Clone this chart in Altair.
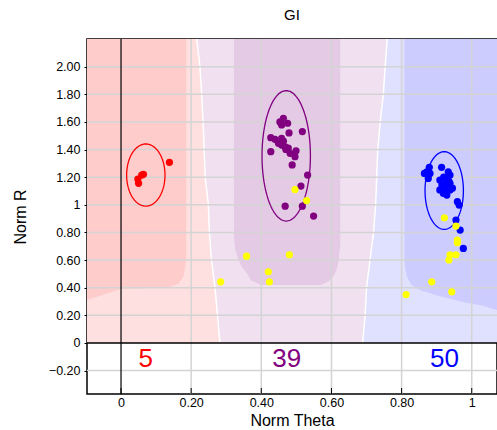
import altair as alt
import pandas as pd
import numpy as np

# ---------------- data ----------------
X_DOMAIN = [-0.097, 1.072]
Y_DOMAIN = [-0.37, 2.2]
Y_TOP = 2.2

# red / purple boundary (x ascending, y of boundary)
rp_x = [0.216, 0.225, 0.230, 0.234, 0.237, 0.240, 0.249, 0.252, 0.258, 0.268, 0.275, 0.282]
rp_y = [2.2, 2.0, 1.8, 1.6, 1.4, 1.2, 1.0, 0.8, 0.6, 0.4, 0.2, 0.0]
# purple / blue boundary
pb_x = [0.689, 0.696, 0.700, 0.710, 0.720, 0.726, 0.729, 0.732, 0.739, 0.748, 0.753, 0.759]
pb_y = [0.0, 0.2, 0.4, 0.6, 0.8, 1.0, 1.2, 1.4, 1.6, 1.8, 2.0, 2.2]

# darker high-confidence zones: lower edge (x ascending, y bottom); they reach the top
red_core_x = [-0.097, 0.0, 0.10, 0.14, 0.165, 0.178, 0.183, 0.186]
red_core_y = [0.31, 0.39, 0.40, 0.405, 0.43, 0.48, 0.55, 0.62]

purple_core_x = [0.322, 0.326, 0.335, 0.345, 0.36, 0.372, 0.40, 0.57, 0.594, 0.61, 0.617, 0.62, 0.625]
purple_core_y = [0.75, 0.67, 0.60, 0.55, 0.50, 0.45, 0.42, 0.42, 0.45, 0.50, 0.55, 0.60, 0.70]

blue_core_x = [0.808, 0.81, 0.815, 0.828, 0.855, 0.92, 0.985, 1.03, 1.072]
blue_core_y = [0.62, 0.55, 0.48, 0.42, 0.38, 0.33, 0.29, 0.27, 0.237]

# points
red_x = [0.050, 0.048, 0.059, 0.064, 0.138]
red_y = [1.155, 1.186, 1.215, 1.220, 1.307]

purple_x = [0.463, 0.453, 0.458, 0.475, 0.479, 0.517, 0.427, 0.439, 0.458, 0.449, 0.458, 0.468,
            0.477, 0.427, 0.482, 0.499, 0.496, 0.488, 0.532, 0.513, 0.468, 0.517, 0.549, 0.463, 0.470]
purple_y = [1.626, 1.600, 1.578, 1.590, 1.520, 1.530, 1.486, 1.474, 1.480, 1.445, 1.432, 1.420,
            1.410, 1.384, 1.372, 1.391, 1.348, 1.288, 1.215, 1.135, 0.990, 0.990, 0.918, 1.460, 1.400]

blue_x = [0.914, 0.879, 0.872, 0.865, 0.881, 0.876, 0.933, 0.938, 0.909, 0.924, 0.915, 0.929, 0.938,
          0.909, 0.924, 0.938, 0.919, 0.929, 0.930, 0.959, 0.964, 0.955, 0.967, 0.976, 0.920, 0.935, 0.945]
blue_y = [1.271, 1.271, 1.239, 1.227, 1.227, 1.191, 1.239, 1.215, 1.179, 1.191, 1.143, 1.155, 1.155,
          1.107, 1.119, 1.107, 1.083, 1.070, 1.130, 1.022, 0.998, 0.889, 0.817, 0.684, 1.200, 1.170, 1.120]

yellow_x = [0.496, 0.529, 0.358, 0.480, 0.420, 0.423, 0.284, 0.886, 0.943, 0.813,
            0.935, 0.938, 0.955, 0.959, 0.959, 0.955, 0.922]
yellow_y = [1.110, 1.030, 0.628, 0.638, 0.515, 0.442, 0.442, 0.442, 0.370, 0.350,
            0.600, 0.638, 0.638, 0.744, 0.725, 0.846, 0.906]

# cluster ellipses: centre x, centre y, half-width, half-height
ell_names = ["red", "purple", "blue"]
ell_cx = [0.0707, 0.471, 0.9215]
ell_cy = [1.215, 1.354, 1.103]
ell_rx = [0.0547, 0.069, 0.0547]
ell_ry = [0.225, 0.472, 0.281]

# counts under the axis
count_text = ["5", "39", "50"]
count_x = [0.0707, 0.4725, 0.922]
count_y = [-0.178, -0.178, -0.178]

x_ticks = [0, 0.2, 0.4, 0.6, 0.8, 1.0]
y_ticks = [-0.2, 0, 0.2, 0.4, 0.6, 0.8, 1.0, 1.2, 1.4, 1.6, 1.8, 2.0]
x_grid = [0.2, 0.4, 0.6, 0.8, 1.0]
y_grid = [-0.2, 0.2, 0.4, 0.6, 0.8, 1.0, 1.2, 1.4, 1.6, 1.8, 2.0]

colors = {"red": "#ff0000", "purple": "#800080", "blue": "#0000ff", "yellow": "#ffff00"}
light = {"red": "#ffe0e0", "purple": "#f0e0f0", "blue": "#e0e0ff"}
dark = {"red": "#ffcccc", "purple": "#e4cae4", "blue": "#ccccff"}

FONT = "Liberation Sans"
W, H = 410, 355

# ---------------- chart ----------------
xmin, xmax = X_DOMAIN
xs = alt.Scale(domain=X_DOMAIN, nice=False, zero=False)
ys = alt.Scale(domain=Y_DOMAIN, nice=False, zero=False)
label_expr = "datum.value == 0 ? '0' : datum.value == 1 ? '1' : format(datum.value, '.2f')"
x_axis = alt.Axis(values=x_ticks, grid=False, domain=False, ticks=False, tickSize=0,
                  labelPadding=2, labelExpr=label_expr, labelOverlap=False, titlePadding=4)
y_axis = alt.Axis(values=y_ticks, grid=False, domain=False, ticks=True, tickSize=3,
                  labelPadding=4, labelExpr=label_expr, labelOverlap=False, titlePadding=20)


def X(field="x"):
    return alt.X(f"{field}:Q", scale=xs, axis=x_axis, title="Norm Theta")


def Y(field="y"):
    return alt.Y(f"{field}:Q", scale=ys, axis=y_axis, title="Norm R")


def varea(xv, ylo, yhi, color):
    df = pd.DataFrame({"x": xv, "y": ylo, "y2": yhi})
    return alt.Chart(df).mark_area(color=color, opacity=1, clip=True).encode(
        x=X(), y=Y(), y2="y2:Q")


blue_light_a = varea([xmin, xmax], [0, 0], [Y_TOP, Y_TOP], light["blue"])
purple_light_a = varea([xmin] + pb_x, [0] + pb_y, [Y_TOP] * (len(pb_x) + 1), light["purple"])
red_light_a = varea([xmin] + rp_x, [0] * (len(rp_x) + 1), [Y_TOP] + rp_y, light["red"])
red_core_a = varea(red_core_x, red_core_y, [Y_TOP] * len(red_core_x), dark["red"])
purple_core_a = varea(purple_core_x, purple_core_y, [Y_TOP] * len(purple_core_x), dark["purple"])
blue_core_a = varea(blue_core_x, blue_core_y, [Y_TOP] * len(blue_core_x), dark["blue"])

bound_df = pd.concat([
    pd.DataFrame({"x": rp_x, "y": rp_y, "b": "rp"}),
    pd.DataFrame({"x": pb_x, "y": pb_y, "b": "pb"}),
])
bound_lines = alt.Chart(bound_df).mark_line(color="white", strokeWidth=1.5, clip=True).encode(
    x=X(), y=Y(), detail="b:N", order=alt.Order("y:Q"))

grid_x = alt.Chart(pd.DataFrame({"x": x_grid})).mark_rule(color="#d4d4d4", strokeWidth=1.5).encode(x=X())
grid_y = alt.Chart(pd.DataFrame({"y": y_grid})).mark_rule(color="#d4d4d4", strokeWidth=1.5).encode(y=Y())
zero_x = alt.Chart(pd.DataFrame({"x": [0]})).mark_rule(color="black", strokeWidth=1.2).encode(x=X())
zero_y = alt.Chart(pd.DataFrame({"y": [0]})).mark_rule(color="black", strokeWidth=1.5).encode(y=Y())

# short inward tick marks along the bottom frame
x_tick_marks = alt.Chart(pd.DataFrame({"x": x_ticks})).mark_rule(color="black", strokeWidth=1).encode(
    x=X(), y=alt.value(H - 6), y2=alt.value(H))

t = np.linspace(0, 2 * np.pi, 121)
ell_rows = []
for n, cx, cy, rx, ry in zip(ell_names, ell_cx, ell_cy, ell_rx, ell_ry):
    for i, tt in enumerate(t):
        ell_rows.append({"grp": n, "i": i, "x": cx + rx * np.cos(tt), "y": cy + ry * np.sin(tt)})
ell_df = pd.DataFrame(ell_rows)

cscale = alt.Scale(domain=list(colors.keys()), range=list(colors.values()))

ellipses = alt.Chart(ell_df).mark_line(strokeWidth=1.3).encode(
    x=X(), y=Y(),
    color=alt.Color("grp:N", scale=cscale, legend=None),
    detail="grp:N", order=alt.Order("i:Q"))

pts_df = pd.concat([
    pd.DataFrame({"x": red_x, "y": red_y, "grp": "red"}),
    pd.DataFrame({"x": purple_x, "y": purple_y, "grp": "purple"}),
    pd.DataFrame({"x": blue_x, "y": blue_y, "grp": "blue"}),
    pd.DataFrame({"x": yellow_x, "y": yellow_y, "grp": "yellow"}),
])
pts_df["ord"] = pts_df["grp"].map({"red": 0, "purple": 0, "blue": 0, "yellow": 1})

points = alt.Chart(pts_df).mark_circle(size=52, opacity=1).encode(
    x=X(), y=Y(),
    color=alt.Color("grp:N", scale=cscale, legend=None),
    order=alt.Order("ord:Q"),
)

counts = alt.Chart(pd.DataFrame({"x": count_x, "y": count_y, "t": count_text, "grp": ell_names})).mark_text(
    fontSize=26, font=FONT, baseline="alphabetic", align="center").encode(
    x=X(), y=Y(), text="t:N",
    color=alt.Color("grp:N", scale=cscale, legend=None))

chart = alt.layer(
    blue_light_a, purple_light_a, red_light_a, red_core_a, purple_core_a, blue_core_a,
    bound_lines, grid_x, grid_y, zero_x, zero_y, x_tick_marks, ellipses, points, counts
).properties(
    width=W, height=H,
    title=alt.TitleParams("GI", fontSize=15, font=FONT, fontWeight="normal", color="black",
                          anchor="middle", offset=15, frame="group"),
    padding={"left": 87, "top": 39, "right": 0, "bottom": 36},
    autosize=alt.AutoSizeParams(type="none"),
).configure_view(stroke="black", strokeWidth=1.5).configure_axis(
    labelFont=FONT, labelFontSize=12.5, labelColor="black",
    titleFont=FONT, titleFontSize=16, titleFontWeight="normal", titleColor="black",
    tickColor="black",
)

chart.save("out.html", embed_options={"renderer": "svg", "actions": False})
